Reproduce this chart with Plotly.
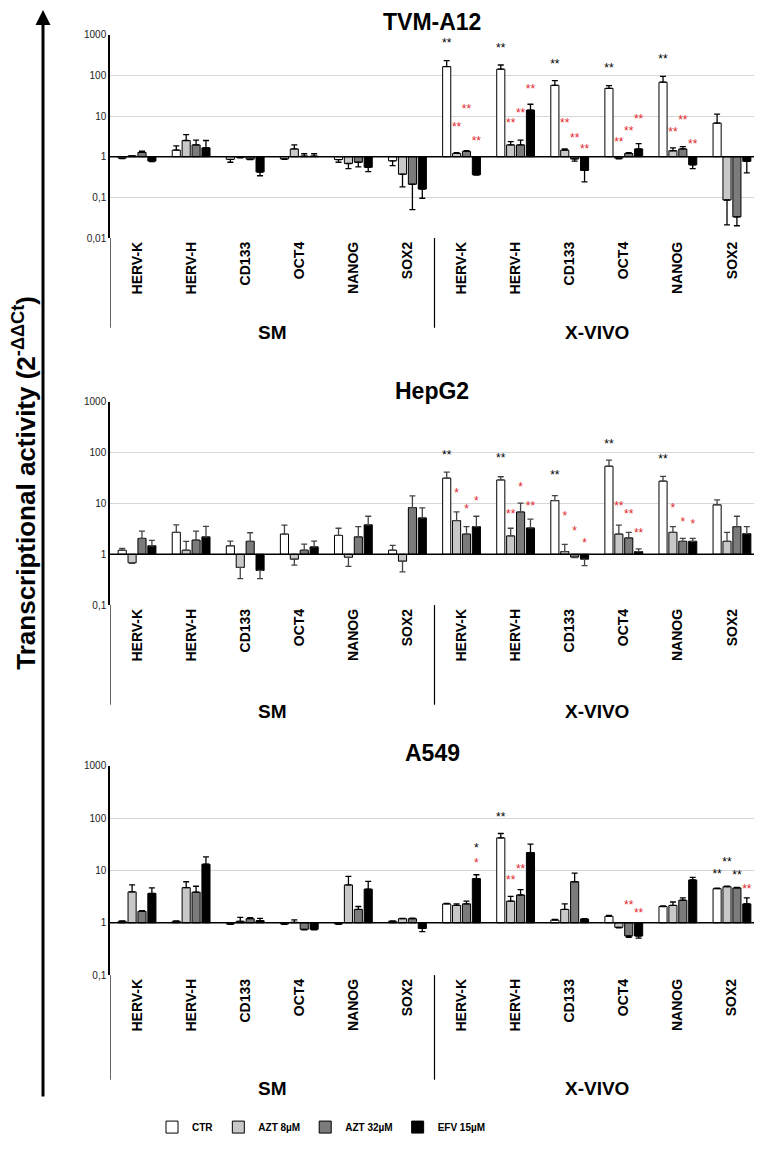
import plotly.graph_objects as go

genes = ["HERV-K", "HERV-H", "CD133", "OCT4", "NANOG", "SOX2"]
categories = genes + genes
media = ["SM", "X-VIVO"]
series = ["CTR", "AZT 8µM", "AZT 32µM", "EFV 15µM"]
cell_lines = ["TVM-A12", "HepG2", "A549"]

# values: 6 genes in SM, then 6 genes in X-VIVO
tvm_ctr = [0.92, 1.45, 0.86, 0.88, 0.85, 0.79, 165, 142, 57, 48, 68, 6.7]
tvm_ctr_err = [0.02, 0.4, 0.13, 0.02, 0.12, 0.19, 65, 38, 17, 8, 26, 4.4]
tvm_azt8 = [1.05, 2.5, 0.96, 1.55, 0.68, 0.37, 1.2, 1.95, 1.45, 0.92, 1.4, 0.086]
tvm_azt8_err = [0.0, 1.0, 0.02, 0.4, 0.17, 0.19, 0.05, 0.4, 0.1, 0.03, 0.25, 0.065]
tvm_azt32 = [1.28, 1.95, 0.87, 1.03, 0.73, 0.21, 1.35, 1.95, 0.88, 1.2, 1.55, 0.033]
tvm_azt32_err = [0.08, 0.6, 0.02, 0.15, 0.17, 0.16, 0.05, 0.6, 0.1, 0.05, 0.22, 0.013]
tvm_efv = [0.78, 1.65, 0.42, 1.03, 0.55, 0.16, 0.36, 14, 0.46, 1.55, 0.63, 0.77]
tvm_efv_err = [0.02, 0.85, 0.08, 0.15, 0.12, 0.065, 0.01, 5.5, 0.22, 0.55, 0.12, 0.37]

hep_ctr = [1.2, 2.7, 1.47, 2.5, 2.35, 1.2, 31.5, 29, 11.4, 54, 27.5, 9.4]
hep_ctr_err = [0.1, 1.1, 0.35, 1.25, 0.9, 0.3, 10, 4.5, 2.9, 17, 6.5, 2.4]
hep_azt8 = [0.68, 1.2, 0.55, 0.8, 0.87, 0.73, 4.6, 2.3, 1.13, 2.5, 2.7, 1.8]
hep_azt8_err = [0.02, 0.6, 0.22, 0.19, 0.29, 0.28, 2.2, 0.95, 0.43, 1.25, 0.8, 0.9]
hep_azt32 = [2.05, 1.9, 1.8, 1.2, 2.2, 8.3, 2.5, 6.8, 0.88, 2.1, 1.8, 3.5]
hep_azt32_err = [0.8, 0.95, 0.85, 0.38, 1.3, 5.8, 1.0, 3.3, 0.02, 0.6, 0.25, 2.1]
hep_efv = [1.47, 2.2, 0.48, 1.4, 3.8, 5.2, 3.5, 3.3, 0.8, 1.13, 1.8, 2.55]
hep_efv_err = [0.4, 1.35, 0.15, 0.42, 1.8, 3.0, 2.1, 1.6, 0.2, 0.15, 0.25, 0.95]

a549_ctr = [1.07, 1.07, 0.95, 0.95, 0.95, 1.07, 2.3, 42, 1.13, 1.33, 2.05, 4.5]
a549_ctr_err = [0.02, 0.02, 0.02, 0.02, 0.02, 0.02, 0.05, 9, 0.03, 0.05, 0.05, 0.1]
a549_azt8 = [3.9, 4.7, 1.07, 1.02, 5.3, 1.2, 2.15, 2.6, 1.8, 0.82, 2.15, 4.9]
a549_azt8_err = [1.4, 1.4, 0.2, 0.12, 2.4, 0.02, 0.15, 0.6, 0.5, 0.02, 0.35, 0.1]
a549_azt32 = [1.65, 3.85, 1.2, 0.75, 1.8, 1.2, 2.3, 3.4, 6.1, 0.56, 2.7, 4.65]
a549_azt32_err = [0.05, 1.15, 0.05, 0.02, 0.25, 0.03, 0.3, 0.9, 2.8, 0.03, 0.3, 0.1]
a549_efv = [3.65, 13.2, 1.1, 0.75, 4.4, 0.78, 7.0, 22, 1.18, 0.56, 6.6, 2.3]
a549_efv_err = [1.0, 5.0, 0.12, 0.02, 1.8, 0.1, 1.3, 10, 0.02, 0.05, 0.8, 0.7]

# significance marks: (category index, series index, height, mark, k=vs SM / r=vs CTR)
tvm_stars = [
    (6, 0, 580, "**", "k"), (6, 1, 5.1, "**", "r"), (6, 2, 14.1, "**", "r"), (6, 3, 2.26, "**", "r"),
    (7, 0, 448, "**", "k"), (7, 1, 6.5, "**", "r"), (7, 2, 11.3, "**", "r"), (7, 3, 42.7, "**", "r"),
    (8, 0, 184, "**", "k"), (8, 1, 6.5, "**", "r"), (8, 2, 2.8, "**", "r"), (8, 3, 1.45, "**", "r"),
    (9, 0, 142, "**", "k"), (9, 1, 2.2, "**", "r"), (9, 2, 4.15, "**", "r"), (9, 3, 8.2, "**", "r"),
    (10, 0, 239, "**", "k"), (10, 1, 3.86, "**", "r"), (10, 2, 7.4, "**", "r"), (10, 3, 1.9, "**", "r"),
]
hep_stars = [
    (6, 0, 84.8, "**", "k"), (6, 1, 15.2, "*", "r"), (6, 2, 7.4, "*", "r"), (6, 3, 10.8, "*", "r"),
    (7, 0, 75.3, "**", "k"), (7, 1, 5.9, "**", "r"), (7, 2, 19.9, "*", "r"), (7, 3, 8.6, "**", "r"),
    (8, 0, 34, "**", "k"), (8, 1, 5.3, "*", "r"), (8, 2, 2.7, "*", "r"), (8, 3, 1.59, "*", "r"),
    (9, 0, 143, "**", "k"), (9, 1, 8.6, "**", "r"), (9, 2, 6.0, "**", "r"), (9, 3, 2.5, "**", "r"),
    (10, 0, 71, "**", "k"), (10, 1, 7.9, "*", "r"), (10, 2, 4.1, "*", "r"), (10, 3, 3.7, "*", "r"),
]
a549_stars = [
    (6, 3, 25.4, "*", "k"), (6, 3, 13.2, "*", "r"),
    (7, 0, 99.4, "**", "k"), (7, 1, 6.4, "**", "r"), (7, 2, 10.3, "**", "r"),
    (9, 2, 2.13, "**", "r"), (9, 3, 1.48, "**", "r"),
    (11, 0, 8.2, "**", "k"), (11, 1, 14.2, "**", "k"), (11, 2, 8.0, "**", "k"), (11, 3, 4.15, "**", "r"),
]

ytick_vals = [0.01, 0.1, 1, 10, 100, 1000]
ytick_text = ["0,01", "0,1", "1", "10", "100", "1000"]

panels_vals = [
    [tvm_ctr, tvm_azt8, tvm_azt32, tvm_efv],
    [hep_ctr, hep_azt8, hep_azt32, hep_efv],
    [a549_ctr, a549_azt8, a549_azt32, a549_efv],
]
panels_errs = [
    [tvm_ctr_err, tvm_azt8_err, tvm_azt32_err, tvm_efv_err],
    [hep_ctr_err, hep_azt8_err, hep_azt32_err, hep_efv_err],
    [a549_ctr_err, a549_azt8_err, a549_azt32_err, a549_efv_err],
]
panels_stars = [tvm_stars, hep_stars, a549_stars]

# page body has an 8px margin: keep the figure inside the window
OFF = 8
W, H = 762 - OFF, 1150 - 2 * OFF
FONT = "Liberation Sans, Arial, sans-serif"
fills = ["white", "#c8c8c8", "#7b7b7b", "black"]
star_col = {"k": "black", "r": "#e3262b"}
STEP, BW = 0.183, 0.15

# pixel geometry (window coords) of each panel: top (1000 line), bottom, log range,
# title y, separator end, group label y
geo = [
    dict(top=29, bottom=235, rng=[-2, 3], title=16, sep=326, group=331),
    dict(top=401, bottom=607, rng=[-1, 3], title=390, sep=708, group=715),
    dict(top=770, bottom=982, rng=[-1, 3], title=757, sep=1088, group=1097),
]


def px(p):
    return (p - OFF) / W


def py(p):
    return 1 - (p - OFF) / H


fig = go.Figure()
shapes, annotations = [], []
layout_axes = {}

for p in range(3):
    sfx = "" if p == 0 else str(p + 1)
    xa, ya = "x" + sfx, "y" + sfx
    err_col = "#444444" if p == 1 else "black"
    for k in range(4):
        vals = panels_vals[p][k]
        errs = panels_errs[p][k]
        fig.add_trace(go.Bar(
            x=[i + (k - 1.5) * STEP for i in range(12)],
            y=[v - 1 for v in vals],
            base=[1] * 12,
            width=BW,
            name=series[k],
            legendgroup=series[k],
            showlegend=(p == 0),
            marker=dict(color=fills[k], line=dict(color="black", width=1)),
            error_y=dict(
                type="data", symmetric=False,
                array=[e if v >= 1 else 0 for v, e in zip(vals, errs)],
                arrayminus=[e if v < 1 else 0 for v, e in zip(vals, errs)],
                color=err_col, thickness=1.3, width=3,
            ),
            customdata=vals,
            hovertemplate="%{customdata}<extra>" + series[k] + "</extra>",
            xaxis=xa, yaxis=ya,
        ))
    stars = panels_stars[p]
    fig.add_trace(go.Scatter(
        x=[c + (s - 1.5) * STEP for c, s, _, _, _ in stars],
        y=[h for _, _, h, _, _ in stars],
        text=[t for _, _, _, t, _ in stars],
        mode="text",
        textfont=dict(family=FONT, size=12, color=[star_col[c] for *_, c in stars]),
        showlegend=False, hoverinfo="skip", cliponaxis=False,
        xaxis=xa, yaxis=ya,
    ))

    g = geo[p]
    layout_axes["xaxis" + sfx] = dict(
        domain=[px(110), min(1, px(759))], anchor=ya, range=[-0.5, 11.5],
        tickvals=list(range(12)), ticktext=categories, tickangle=-90,
        tickfont=dict(family=FONT, size=14, color="black", weight="bold"),
        showgrid=False, zeroline=False, showline=False, ticks="",
    )
    layout_axes["yaxis" + sfx] = dict(
        domain=[py(g["bottom"]), py(g["top"])], anchor=xa, type="log", range=g["rng"],
        tickvals=ytick_vals, ticktext=ytick_text,
        tickfont=dict(family=FONT, size=10, color="#222222"),
        showgrid=True, gridcolor="#d6d6d6", gridwidth=1,
        showline=True, linecolor="black", linewidth=1.5, ticks="", zeroline=False,
    )
    # black baseline at 1
    shapes.append(dict(type="line", xref=xa + " domain", yref=ya, x0=0, x1=1, y0=1, y1=1,
                       line=dict(color="black", width=1.5)))
    # group separators below the axis
    for xs in [-0.5, 5.5, 11.5]:
        shapes.append(dict(type="line", xref=xa, yref="paper", x0=xs, x1=xs,
                           y0=py(g["bottom"]), y1=py(g["sep"]), line=dict(color="black", width=1.2)))
    for j, m in enumerate(media):
        annotations.append(dict(text=m, xref=xa, yref="paper", x=2.5 + 6 * j, y=py(g["group"]),
                                xanchor="center", yanchor="middle", showarrow=False,
                                font=dict(family=FONT, size=19, color="black", weight="bold")))
    annotations.append(dict(text=cell_lines[p], xref="paper", yref="paper", x=px(432), y=py(g["title"]),
                            xanchor="center", yanchor="middle", showarrow=False,
                            font=dict(family=FONT, size=23, color="black", weight="bold")))

# big arrow on the left and the shared y title
annotations.append(dict(text="", xref="paper", yref="paper", x=px(43), y=py(4), ax=0, ay=1088,
                        showarrow=True, arrowhead=2, arrowsize=1, arrowwidth=3, arrowcolor="black"))
annotations.append(dict(text="Transcriptional activity (2<sup>-ΔΔCt</sup>)", xref="paper", yref="paper",
                        x=px(25), y=py(483), xanchor="center", yanchor="middle", textangle=-90,
                        showarrow=False, font=dict(family=FONT, size=26, color="black", weight="bold")))

fig.update_layout(
    width=W, height=H,
    margin=dict(l=0, r=0, t=0, b=0),
    plot_bgcolor="white", paper_bgcolor="white",
    barmode="overlay",
    shapes=shapes, annotations=annotations,
    legend=dict(orientation="h", x=px(152), y=py(1136), xanchor="left", yanchor="middle",
                font=dict(family=FONT, size=10, color="black", weight="bold"),
                traceorder="normal"),
    **layout_axes,
)

fig.write_html("out.html")
